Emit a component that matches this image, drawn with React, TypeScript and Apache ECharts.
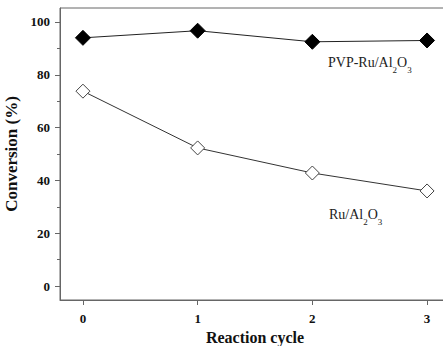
import React, { useEffect, useRef } from "react";
import * as echarts from "echarts";

const cycles = [0, 1, 2, 3];
const pvpRu = [94, 96.7, 92.5, 93];
const ru = [73.8, 52.3, 42.8, 36];
const yMajor = [0, 20, 40, 60, 80, 100];
const yMinor = [10, 30, 50, 70, 90];

const FONT = "Liberation Serif";

export default function App() {
  const ref = useRef<HTMLDivElement>(null);
  useEffect(() => {
    if (!ref.current) return;
    const chart = echarts.init(ref.current, undefined, { renderer: "svg" });
    const axisColor = "#666";
    chart.setOption({
      animation: false,
      backgroundColor: "#fff",
      grid: {
        left: 60, top: 8, right: -7, bottom: 46,
        containLabel: false, outerBoundsMode: "none",
        show: true, borderColor: axisColor, borderWidth: 1,
      },
      xAxis: {
        type: "value",
        min: -0.2,
        max: 3.2,
        name: "Reaction cycle",
        nameLocation: "middle",
        nameGap: 22,
        nameTextStyle: { fontFamily: FONT, fontWeight: "bold", fontSize: 16, color: "#111", lineHeight: 16, verticalAlign: "top" },
        axisLine: { show: true, onZero: false, lineStyle: { color: axisColor } },
        axisTick: { show: true, inside: false, length: 5, customValues: cycles, lineStyle: { color: axisColor } },
        axisLabel: { customValues: cycles, fontFamily: FONT, fontWeight: "bold", fontSize: 13, color: "#111", margin: 12 },
        splitLine: { show: false },
      },
      yAxis: [
        {
          type: "value",
          min: -5.3,
          max: 105.3,
          name: "Conversion (%)",
          nameLocation: "middle",
          nameGap: 30,
          nameTextStyle: { fontFamily: FONT, fontWeight: "bold", fontSize: 17, color: "#111" },
          axisLine: { show: true, onZero: false, lineStyle: { color: axisColor } },
          axisTick: { show: true, inside: false, length: 5, customValues: yMajor, lineStyle: { color: axisColor } },
          axisLabel: { customValues: yMajor, fontFamily: FONT, fontWeight: "bold", fontSize: 13, color: "#111", margin: 10 },
          splitLine: { show: false },
        },
        {
          type: "value",
          min: -5.3,
          max: 105.3,
          position: "left",
          axisLine: { show: false, onZero: false },
          axisTick: { show: true, inside: false, length: 3, customValues: yMinor, lineStyle: { color: axisColor } },
          axisLabel: { show: false },
          splitLine: { show: false },
        },
      ],
      series: [
        {
          type: "line",
          data: cycles.map((c, i) => [c, pvpRu[i]]),
          symbol: "diamond",
          symbolSize: 15,
          itemStyle: { color: "#000", borderColor: "#000" },
          lineStyle: { color: "#222", width: 1 },
          z: 3,
        },
        {
          type: "line",
          data: cycles.map((c, i) => [c, ru[i]]),
          symbol: "diamond",
          symbolSize: 14,
          showAllSymbol: true,
          itemStyle: { color: "#fff", borderColor: "#444", borderWidth: 1 },
          lineStyle: { color: "#333", width: 1 },
          z: 3,
        },
      ],
      graphic: [
        {
          type: "text",
          left: 328,
          top: 55,
          style: {
            text: "{n|PVP-Ru/Al}{s|2}{n|O}{s|3}",
            rich: {
              n: { fontFamily: FONT, fontSize: 14, fill: "#222", verticalAlign: "bottom", lineHeight: 16 },
              s: { fontFamily: FONT, fontSize: 9, fill: "#222", verticalAlign: "bottom", lineHeight: 16, padding: [0, 0, -5, 0] },
            },
          },
        },
        {
          type: "text",
          left: 329,
          top: 207,
          style: {
            text: "{n|Ru/Al}{s|2}{n|O}{s|3}",
            rich: {
              n: { fontFamily: FONT, fontSize: 14, fill: "#222", verticalAlign: "bottom", lineHeight: 16 },
              s: { fontFamily: FONT, fontSize: 9, fill: "#222", verticalAlign: "bottom", lineHeight: 16, padding: [0, 0, -5, 0] },
            },
          },
        },
      ],
    });
    return () => chart.dispose();
  }, []);
  return <div ref={ref} style={{ width: 443, height: 346, position: "absolute", left: 0, top: 0 }} />;
}
